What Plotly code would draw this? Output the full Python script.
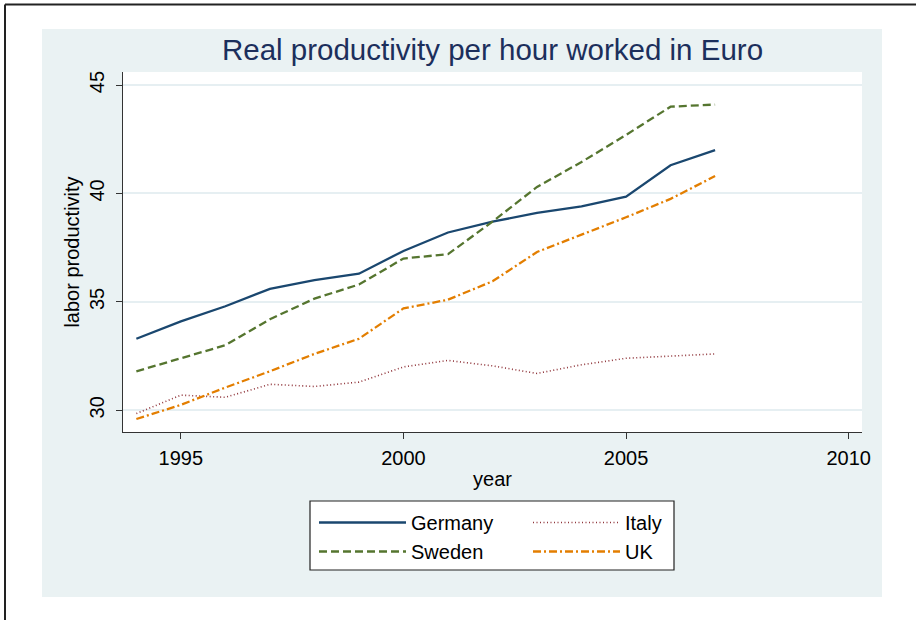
import plotly.graph_objects as go

years = list(range(1994, 2008))
germany = [33.3, 34.1, 34.8, 35.6, 36.0, 36.3, 37.35, 38.2, 38.7, 39.1, 39.4, 39.85, 41.3, 42.0]
sweden = [31.8, 32.4, 33.0, 34.2, 35.15, 35.8, 37.0, 37.2, 38.7, 40.3, 41.45, 42.7, 44.0, 44.1]
italy = [29.85, 30.7, 30.6, 31.2, 31.1, 31.3, 32.0, 32.3, 32.05, 31.7, 32.1, 32.4, 32.5, 32.6]
uk = [29.6, 30.25, 31.05, 31.8, 32.6, 33.3, 34.7, 35.1, 35.95, 37.3, 38.1, 38.9, 39.75, 40.8]

x_ticks = [1995, 2000, 2005, 2010]
y_ticks = [30, 35, 40, 45]

W, H = 916, 620
L, R, T, B = 123, 862, 72, 432  # plot area in px


def px(x):
    return (x - L) / (R - L)


def py(y):
    return (B - y) / (B - T)


fig = go.Figure()
fig.add_trace(go.Scatter(x=years, y=germany, name="Germany", mode="lines",
                         line=dict(color="#1a476f", width=2.3), legend="legend"))
fig.add_trace(go.Scatter(x=years, y=sweden, name="Sweden", mode="lines",
                         line=dict(color="#55752f", width=2.3, dash="8px,4px"), legend="legend"))
fig.add_trace(go.Scatter(x=years, y=italy, name="Italy", mode="lines",
                         line=dict(color="#90353b", width=1.6, dash="1px,2.5px"), legend="legend2"))
fig.add_trace(go.Scatter(x=years, y=uk, name="UK", mode="lines",
                         line=dict(color="#e37e00", width=2.3, dash="8px,3px,2px,3px"), legend="legend2"))

shapes = [
    # light panel
    dict(type="rect", xref="paper", yref="paper", x0=px(42), x1=px(882), y0=py(597), y1=py(29),
         fillcolor="#eaf2f3", line=dict(width=0), layer="below"),
    # white plot region
    dict(type="rect", xref="paper", yref="paper", x0=0, x1=1, y0=0, y1=1,
         fillcolor="white", line=dict(width=0), layer="below"),
    # outer frame lines
    dict(type="line", xref="paper", yref="paper", x0=px(5), x1=px(930), y0=py(4.5), y1=py(4.5),
         line=dict(color="#222", width=2)),
    dict(type="line", xref="paper", yref="paper", x0=px(5), x1=px(5), y0=py(4.5), y1=py(640),
         line=dict(color="#222", width=2)),
    # legend box
    dict(type="rect", xref="paper", yref="paper", x0=px(310), x1=px(674), y0=py(570), y1=py(501),
         fillcolor="white", line=dict(color="#222", width=1.2), layer="below"),
]

font_main = "Liberation Sans, Arial, sans-serif"

fig.update_layout(
    width=W, height=H,
    margin=dict(l=L, r=W - R, t=T, b=H - B, autoexpand=False),
    paper_bgcolor="white",
    plot_bgcolor="rgba(0,0,0,0)",
    font=dict(family=font_main, size=20, color="#000"),
    title=dict(text="Real productivity per hour worked in Euro", x=492.5 / W, xanchor="center",
               y=1 - 50 / H, yanchor="middle",
               font=dict(family=font_main, size=29.5, color="#1c2f5c")),
    shapes=shapes,
    xaxis=dict(range=[1993.70, 2010.30], tickvals=x_ticks, showgrid=False, zeroline=False,
               ticks="outside", ticklen=6, tickwidth=1.2, tickcolor="#333",
               showline=True, linecolor="#333", linewidth=1.2,
               tickfont=dict(size=20), ticklabelstandoff=2,
               title=dict(text="year", font=dict(size=20), standoff=3)),
    yaxis=dict(range=[29.0, 45.6], tickvals=y_ticks, showgrid=True, gridcolor="#e6eff2", gridwidth=2,
               zeroline=False, ticks="outside", ticklen=6, tickwidth=1.2, tickcolor="#333",
               showline=True, linecolor="#333", linewidth=1.2,
               tickangle=-90, tickfont=dict(size=20), ticklabelstandoff=4,
               title=dict(text="labor productivity", font=dict(size=20), standoff=0)),
    legend=dict(x=px(314), y=py(503), xanchor="left", yanchor="top", bgcolor="rgba(0,0,0,0)",
                borderwidth=0, itemwidth=87, font=dict(size=20), tracegroupgap=0),
    legend2=dict(x=px(528), y=py(503), xanchor="left", yanchor="top", bgcolor="rgba(0,0,0,0)",
                 borderwidth=0, itemwidth=87, font=dict(size=20), tracegroupgap=0),
)

fig.write_html("out.html", config={"displayModeBar": False},
               post_script="document.body.style.margin='0px';document.body.style.overflow='hidden';")
